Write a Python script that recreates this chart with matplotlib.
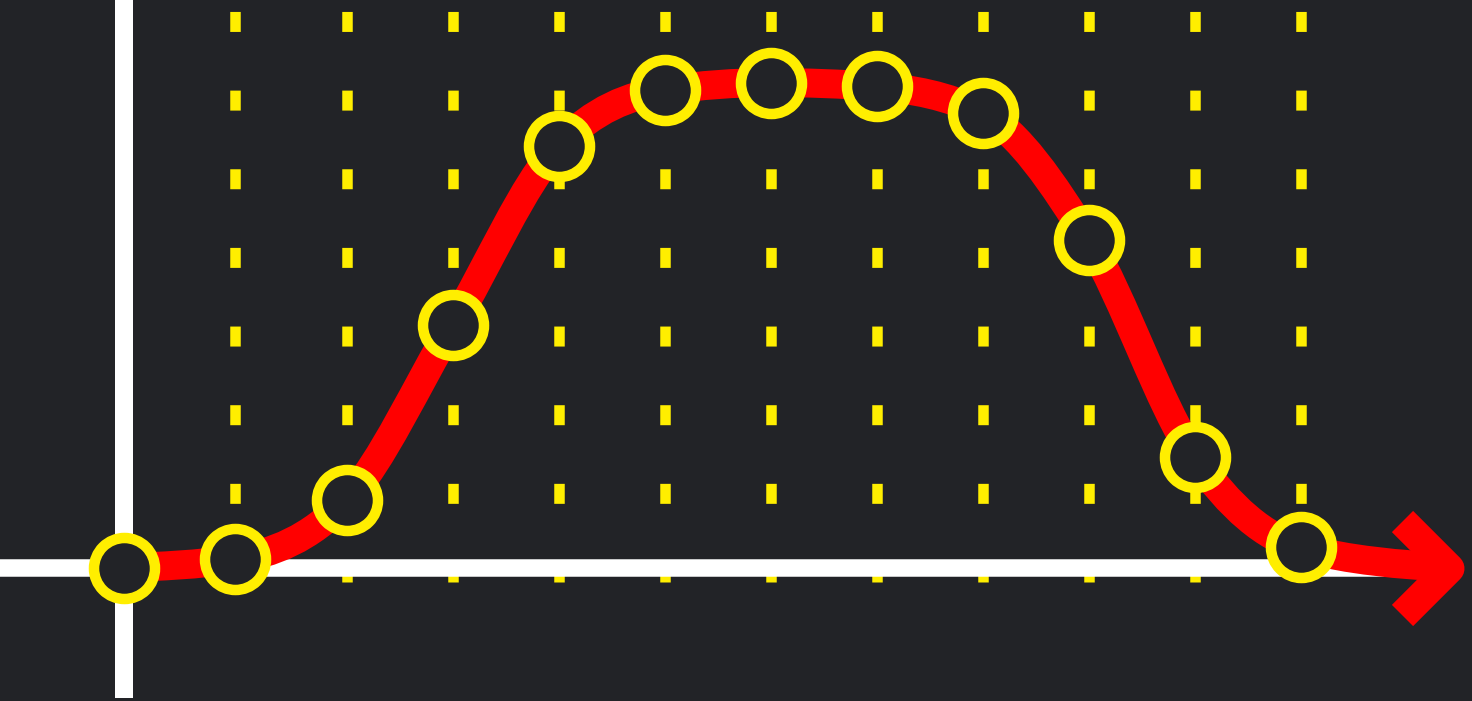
import numpy as np
import matplotlib
matplotlib.use("Agg")
import matplotlib.pyplot as plt
from matplotlib.path import Path
from matplotlib.patches import PathPatch
from matplotlib.markers import MarkerStyle

# data (x in steps, y in grid units above the white axis)
x_pts = [0, 1.05, 2.1, 3.1, 4.1, 5.1, 6.1, 7.1, 8.1, 9.1, 10.1, 11.1]
y_pts = [0, 0.11, 0.86, 3.09, 5.37, 6.08, 6.18, 6.13, 5.79, 4.17, 1.41, 0.26]
# where the curve ends under the arrow head
x_end = 12.5
y_end = 0

BG = "#222327"
RED = "#ff0000"
YELLOW = "#ffee00"
PX = 0.72  # points per pixel at dpi 100

plt.rcParams['lines.scale_dashes'] = False


def monotone_path(xs, ys):
    # cubic bezier path like d3.curveMonotoneX
    xs = np.asarray(xs, float)
    ys = np.asarray(ys, float)
    n = len(xs)
    h = np.diff(xs)
    s = np.diff(ys) / h
    t = np.zeros(n)
    for i in range(1, n - 1):
        if s[i - 1] * s[i] <= 0:
            t[i] = 0
        else:
            p = (s[i - 1] * h[i] + s[i] * h[i - 1]) / (h[i - 1] + h[i])
            t[i] = (np.sign(s[i - 1]) + np.sign(s[i])) * min(abs(s[i - 1]), abs(s[i]), 0.5 * abs(p))
    t[0] = (3 * s[0] - t[1]) / 2
    t[-1] = (3 * s[-1] - t[-2]) / 2
    verts = [(xs[0], ys[0])]
    codes = [Path.MOVETO]
    for i in range(n - 1):
        dx = h[i] / 3
        verts += [(xs[i] + dx, ys[i] + dx * t[i]),
                  (xs[i + 1] - dx, ys[i + 1] - dx * t[i + 1]),
                  (xs[i + 1], ys[i + 1])]
        codes += [Path.CURVE4] * 3
    return Path(verts, codes)


fig = plt.figure(figsize=(14.72, 7.01), dpi=100, facecolor=BG)
ax = fig.add_axes([0, 0, 1, 1])
ax.set_facecolor(BG)
ax.set_xlim(-124 / 106, (1472 - 124) / 106)
ax.set_ylim(-(701 - 567.7) / 78.5, 567.7 / 78.5)
ax.axis('off')

# yellow dashed verticals
ax.vlines(x_pts[1:], -0.186, 8, colors=YELLOW, linewidth=10.5 * PX,
          linestyles=[(0, (20 * PX, 58.65 * PX))], zorder=1)

# white axes
ax.axhline(0, xmin=0, xmax=(x_end + 124 / 106) / (1472 / 106),
           color="white", linewidth=17.5 * PX, solid_capstyle='butt', zorder=2)
ax.vlines(0, -(698 - 567.7) / 78.5, 8, colors="white", linewidth=18 * PX, zorder=2)

# red curve
curve = monotone_path(x_pts + [x_end], y_pts + [y_end])
ax.add_patch(PathPatch(curve, facecolor='none', edgecolor=RED, linewidth=29 * PX,
                       capstyle='butt', joinstyle='round', zorder=3))

# arrow head
chevron = MarkerStyle(Path([(-1, 1), (0, 0), (-1, -1)]), fillstyle='none', joinstyle='miter')
ax.plot([x_end], [y_end], marker=chevron, markersize=94 * PX, markeredgewidth=30 * PX,
        markeredgecolor=RED, linestyle='none', zorder=3)

# yellow ring markers
ax.plot(x_pts, y_pts, linestyle='none', marker='o', markersize=61 * PX,
        markeredgewidth=10.5 * PX, markeredgecolor=YELLOW, markerfacecolor=BG, zorder=4)

fig.savefig("out.png", dpi=100, facecolor=BG)
